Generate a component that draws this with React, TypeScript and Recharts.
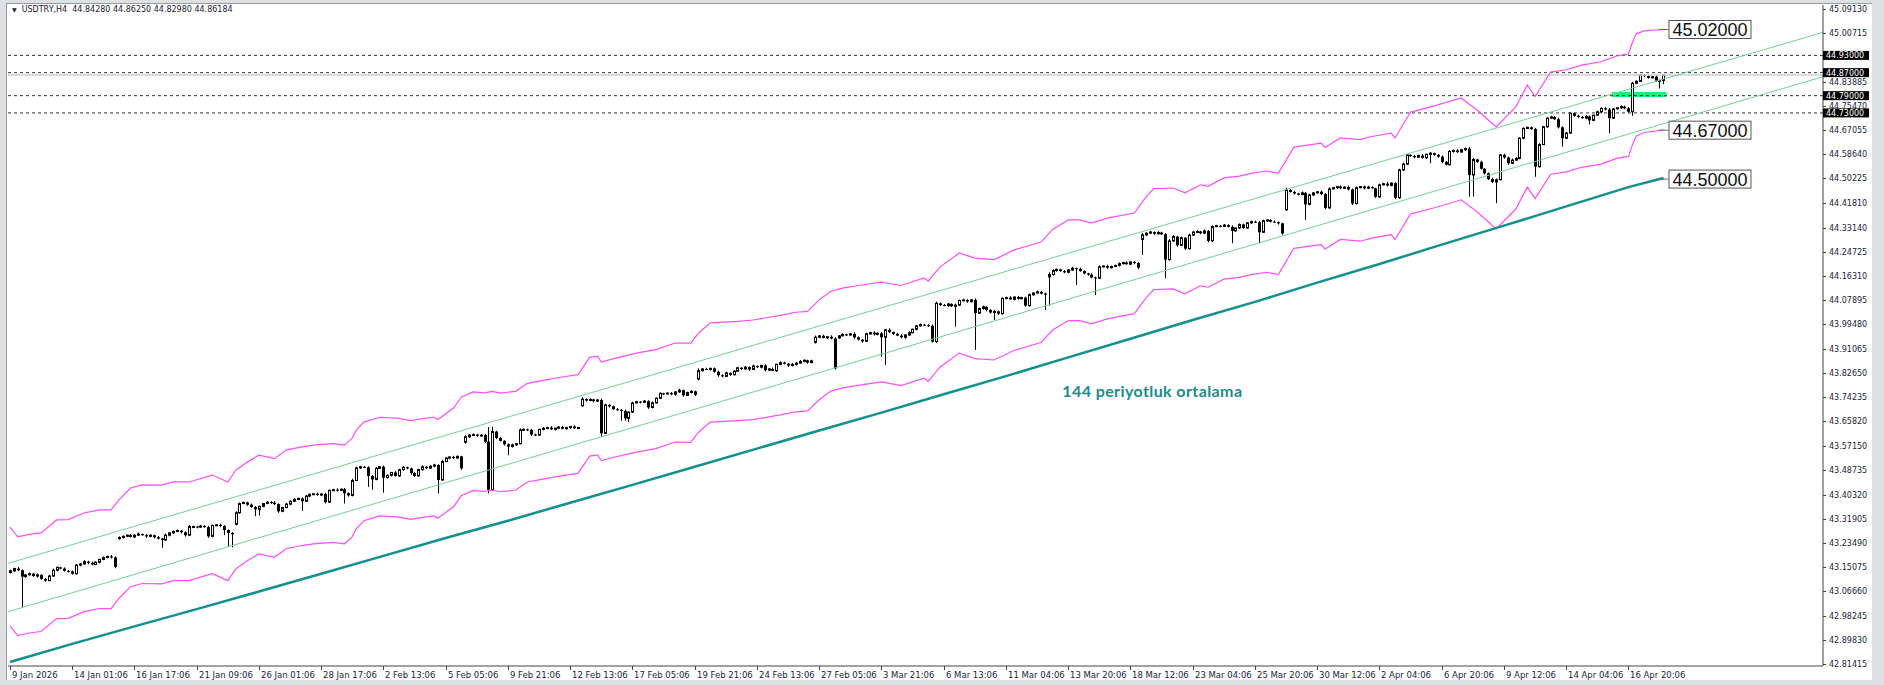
import React from "react";
import { ComposedChart, Bar, Line, XAxis, YAxis, ReferenceLine, ReferenceArea, ReferenceDot } from "recharts";

const AXIS_FONT = "'DejaVu Sans', Verdana, sans-serif";
const AXIS_TEXT = "#1b2340";

// x axis: one label every 16 H4 bars
const dateTicks = [0, 16, 32, 48, 64, 80, 96, 112, 128, 144, 160, 176, 192, 208, 224, 240, 256, 272, 288, 304, 320, 336, 352, 368, 384, 400, 416];
const dateLabels = [
  "9 Jan 2026", "14 Jan 01:06", "16 Jan 17:06", "21 Jan 09:06", "26 Jan 01:06", "28 Jan 17:06", "2 Feb 13:06",
  "5 Feb 05:06", "9 Feb 21:06", "12 Feb 13:06", "17 Feb 05:06", "19 Feb 21:06", "24 Feb 13:06", "27 Feb 05:06",
  "3 Mar 21:06", "6 Mar 13:06", "11 Mar 04:06", "13 Mar 20:06", "18 Mar 12:06", "23 Mar 04:06", "25 Mar 20:06",
  "30 Mar 12:06", "2 Apr 04:06", "6 Apr 20:06", "9 Apr 12:06", "14 Apr 04:06", "16 Apr 20:06",
];

// 44.92300 is hidden behind the 44.93 tag in the picture
const priceTicks = [
  45.0913, 45.00715, 44.83885, 44.7547, 44.67055, 44.5864, 44.50225, 44.4181, 44.3314, 44.24725, 44.1631,
  44.07895, 43.9948, 43.91065, 43.8265, 43.74235, 43.6582, 43.5715, 43.48735, 43.4032, 43.31905, 43.2349, 43.15075,
  43.0666, 42.98245, 42.8983, 42.81415,
];

// candle closes, one row = 16 bars
const closes = [
  43.138, 43.146, 43.140, 43.118, 43.124, 43.128, 43.120, 43.124, 43.110, 43.104, 43.120, 43.140, 43.150, 43.146, 43.138, 43.136,
  43.128, 43.158, 43.162, 43.170, 43.166, 43.160, 43.168, 43.178, 43.184, 43.188, 43.185, 43.152, 43.254, 43.258, 43.262, 43.256,
  43.262, 43.266, 43.262, 43.258, 43.262, 43.255, 43.250, 43.245, 43.262, 43.270, 43.275, 43.278, 43.272, 43.262, 43.292, 43.292,
  43.290, 43.294, 43.290, 43.258, 43.296, 43.298, 43.294, 43.280, 43.270, 43.265, 43.340, 43.372, 43.376, 43.368, 43.360, 43.352,
  43.362, 43.372, 43.377, 43.375, 43.370, 43.345, 43.358, 43.370, 43.380, 43.386, 43.390, 43.380, 43.398, 43.404, 43.406, 43.402,
  43.405, 43.377, 43.418, 43.420, 43.418, 43.422, 43.408, 43.400, 43.452, 43.496, 43.500, 43.498, 43.468, 43.456, 43.494, 43.500,
  43.462, 43.470, 43.480, 43.468, 43.490, 43.498, 43.494, 43.478, 43.468, 43.490, 43.500, 43.495, 43.502, 43.506, 43.454, 43.518,
  43.530, 43.534, 43.530, 43.536, 43.494, 43.604, 43.610, 43.612, 43.608, 43.610, 43.587, 43.420, 43.622, 43.600, 43.590, 43.578,
  43.570, 43.576, 43.580, 43.628, 43.630, 43.628, 43.612, 43.610, 43.630, 43.634, 43.636, 43.630, 43.634, 43.638, 43.632, 43.636,
  43.640, 43.634, 43.636, 43.735, 43.730, 43.734, 43.728, 43.732, 43.616, 43.715, 43.710, 43.700, 43.698, 43.694, 43.668, 43.690,
  43.722, 43.726, 43.724, 43.728, 43.706, 43.722, 43.738, 43.755, 43.754, 43.756, 43.752, 43.760, 43.766, 43.748, 43.758, 43.762,
  43.750, 43.834, 43.840, 43.838, 43.842, 43.830, 43.818, 43.814, 43.826, 43.820, 43.832, 43.844, 43.840, 43.846, 43.838, 43.850,
  43.846, 43.852, 43.836, 43.840, 43.834, 43.856, 43.862, 43.858, 43.852, 43.856, 43.860, 43.866, 43.870, 43.862, 43.868, 43.950,
  43.955, 43.948, 43.952, 43.946, 43.842, 43.955, 43.960, 43.958, 43.962, 43.950, 43.942, 43.936, 43.962, 43.966, 43.960, 43.964,
  43.950, 43.976, 43.968, 43.962, 43.956, 43.950, 43.958, 43.966, 43.978, 43.990, 43.994, 43.992, 43.990, 43.935, 44.068, 44.062,
  44.060, 44.066, 44.058, 44.062, 44.078, 44.080, 44.074, 44.080, 44.034, 44.050, 44.056, 44.045, 44.036, 44.040, 44.032, 44.085,
  44.088, 44.082, 44.090, 44.084, 44.088, 44.060, 44.098, 44.104, 44.108, 44.102, 44.098, 44.168, 44.182, 44.186, 44.180, 44.176,
  44.184, 44.190, 44.188, 44.180, 44.172, 44.168, 44.158, 44.155, 44.195, 44.198, 44.192, 44.196, 44.200, 44.206, 44.210, 44.204,
  44.212, 44.208, 44.192, 44.306, 44.312, 44.316, 44.310, 44.314, 44.308, 44.220, 44.285, 44.300, 44.270, 44.296, 44.258, 44.305,
  44.316, 44.318, 44.312, 44.320, 44.285, 44.335, 44.338, 44.336, 44.340, 44.334, 44.320, 44.330, 44.342, 44.330, 44.348, 44.352,
  44.350, 44.315, 44.355, 44.358, 44.352, 44.350, 44.346, 44.311, 44.462, 44.455, 44.450, 44.446, 44.452, 44.412, 44.445, 44.452,
  44.456, 44.448, 44.400, 44.466, 44.470, 44.474, 44.468, 44.472, 44.464, 44.415, 44.470, 44.474, 44.468, 44.472, 44.468, 44.438,
  44.480, 44.484, 44.478, 44.486, 44.435, 44.532, 44.552, 44.584, 44.580, 44.576, 44.582, 44.574, 44.586, 44.590, 44.584, 44.578,
  44.560, 44.550, 44.596, 44.600, 44.594, 44.602, 44.606, 44.514, 44.568, 44.560, 44.536, 44.520, 44.500, 44.490, 44.498, 44.584,
  44.575, 44.555, 44.566, 44.572, 44.642, 44.676, 44.680, 44.674, 44.543, 44.620, 44.682, 44.712, 44.716, 44.708, 44.680, 44.642,
  44.660, 44.729, 44.720, 44.716, 44.712, 44.718, 44.704, 44.722, 44.734, 44.746, 44.742, 44.712, 44.744, 44.748, 44.752, 44.746,
  44.734, 44.833, 44.840, 44.862, 44.858, 44.852, 44.856, 44.842, 44.843, 44.862,
];

// opens that differ from the previous close (gaps) [bar, open]
const gapOpens = [
  [0, 43.132], [28, 43.25], [58, 43.3], [117, 43.585], [147, 43.712], [177, 43.805],
  [207, 43.932], [213, 43.948], [267, 44.16], [291, 44.29], [328, 44.393],
];

// wick lengths beyond the body, in thousandths
const wickUp = [
  4, 3, 5, 3, 2, 4, 3, 5, 2, 3, 4, 6, 3, 2, 4, 3,
  3, 4, 2, 5, 3, 4, 3, 2, 4, 3, 5, 3, 4, 3, 2, 4,
  3, 5, 2, 4, 3, 2, 4, 3, 5, 2, 3, 4, 2, 3, 5, 3,
  2, 4, 3, 5, 3, 2, 4, 3, 2, 3, 5, 4, 3, 2, 4, 3,
  3, 2, 4, 3, 5, 3, 2, 4, 3, 5, 2, 3, 4, 3, 2, 4,
  3, 4, 2, 3, 5, 2, 4, 3, 6, 4, 3, 2, 4, 3, 5, 3,
  4, 3, 2, 5, 3, 4, 2, 3, 4, 3, 5, 2, 3, 4, 3, 5,
  3, 2, 4, 3, 2, 6, 3, 4, 2, 3, 4, 51, 17, 3, 4, 2,
  3, 4, 2, 5, 3, 2, 4, 3, 2, 4, 3, 5, 2, 3, 4, 3,
  2, 4, 3, 6, 3, 4, 2, 3, 5, 4, 3, 2, 4, 3, 5, 2,
  4, 3, 2, 4, 3, 5, 3, 4, 2, 3, 4, 3, 5, 2, 3, 4,
  3, 8, 3, 4, 2, 3, 4, 3, 5, 2, 4, 3, 2, 4, 3, 5,
  2, 3, 4, 3, 5, 2, 4, 3, 2, 4, 3, 5, 3, 2, 4, 6,
  3, 4, 2, 5, 4, 3, 4, 2, 3, 5, 3, 2, 4, 3, 5, 3,
  4, 3, 5, 2, 3, 4, 3, 5, 2, 3, 4, 2, 3, 5, 6, 3,
  4, 3, 2, 5, 3, 4, 2, 3, 5, 3, 4, 2, 3, 5, 3, 4,
  3, 5, 2, 4, 3, 3, 4, 2, 5, 3, 3, 8, 4, 3, 2, 4,
  3, 5, 2, 4, 3, 2, 4, 3, 5, 2, 4, 3, 2, 5, 3, 4,
  2, 4, 3, 6, 3, 4, 2, 5, 3, 4, 6, 5, 3, 4, 2, 5,
  3, 4, 2, 5, 3, 4, 3, 2, 4, 3, 5, 2, 4, 3, 2, 4,
  3, 5, 4, 3, 2, 4, 3, 2, 8, 3, 4, 2, 5, 3, 4, 3,
  2, 4, 3, 5, 3, 2, 4, 3, 5, 3, 4, 2, 3, 5, 3, 2,
  4, 3, 5, 2, 3, 4, 5, 3, 2, 4, 3, 5, 3, 4, 2, 3,
  4, 3, 5, 2, 4, 3, 4, 6, 5, 3, 4, 2, 3, 5, 4, 3,
  4, 3, 5, 4, 3, 4, 2, 3, 4, 5, 3, 2, 4, 3, 5, 3,
  4, 3, 2, 4, 3, 5, 3, 2, 4, 3, 4, 5, 3, 2, 4, 3,
  4, 5, 3, 1, 3, 4, 2, 5, 3, 1,
];
const wickDn = [
  3, 4, 3, 108, 4, 2, 3, 5, 3, 4, 2, 3, 4, 3, 2, 4,
  3, 2, 4, 3, 5, 3, 2, 4, 3, 2, 4, 5, 3, 4, 3, 2,
  4, 3, 2, 5, 3, 4, 3, 27, 2, 4, 3, 2, 4, 5, 3, 2,
  4, 3, 2, 5, 3, 2, 4, 18, 48, 45, 4, 3, 2, 4, 3, 24,
  22, 3, 2, 4, 3, 5, 3, 2, 4, 3, 2, 34, 3, 4, 2, 3,
  4, 5, 3, 2, 4, 3, 36, 4, 3, 2, 4, 3, 38, 36, 3, 2,
  52, 3, 4, 2, 3, 4, 3, 5, 3, 2, 4, 3, 2, 4, 47, 3,
  2, 4, 3, 2, 5, 5, 3, 2, 4, 3, 5, 13, 3, 4, 2, 4,
  30, 3, 4, 2, 3, 4, 5, 3, 2, 4, 3, 2, 4, 3, 2, 3,
  4, 3, 2, 4, 3, 2, 4, 3, 12, 3, 4, 2, 3, 34, 8, 13,
  3, 2, 4, 3, 5, 3, 2, 3, 4, 2, 3, 5, 3, 4, 2, 3,
  4, 5, 3, 2, 4, 3, 5, 3, 2, 4, 3, 2, 4, 3, 5, 2,
  3, 4, 5, 3, 2, 4, 3, 2, 5, 3, 4, 2, 3, 4, 2, 4,
  3, 2, 4, 3, 4, 3, 2, 4, 3, 5, 3, 4, 2, 3, 4, 3,
  67, 96, 3, 4, 2, 3, 5, 3, 2, 4, 3, 2, 4, 3, 4, 3,
  2, 4, 3, 71, 3, 2, 4, 3, 128, 3, 4, 5, 3, 26, 4, 3,
  3, 2, 4, 3, 2, 4, 3, 4, 2, 3, 53, 100, 3, 4, 2, 3,
  4, 3, 56, 2, 3, 4, 3, 58, 3, 2, 4, 3, 2, 4, 3, 2,
  3, 4, 5, 54, 3, 2, 4, 3, 2, 65, 4, 3, 5, 3, 4, 3,
  2, 3, 4, 2, 5, 3, 2, 4, 3, 2, 43, 3, 4, 3, 2, 4,
  3, 38, 2, 4, 3, 2, 4, 5, 3, 2, 4, 3, 2, 54, 3, 4,
  2, 4, 5, 3, 2, 4, 3, 2, 4, 5, 3, 2, 4, 3, 2, 4,
  3, 2, 4, 3, 5, 3, 4, 2, 3, 4, 2, 3, 4, 31, 3, 4,
  5, 3, 2, 4, 3, 2, 4, 75, 75, 4, 3, 4, 3, 4, 74, 3,
  4, 5, 3, 2, 3, 4, 2, 3, 35, 3, 2, 4, 3, 2, 4, 29,
  3, 2, 4, 3, 2, 4, 14, 3, 2, 4, 3, 53, 3, 2, 4, 3,
  4, 14, 3, 2, 4, 3, 2, 3, 27, 13,
];

// 144 period moving average
const maIdx = [0, 16, 32, 48, 64, 80, 96, 112, 128, 144, 160, 176, 192, 208, 224, 240, 256, 272, 288, 304, 320, 336, 352, 368, 384, 400, 416, 425];
const maVals = [
  42.821, 42.884, 42.945, 43.005, 43.066, 43.128, 43.19, 43.252, 43.312, 43.375, 43.437, 43.5, 43.563, 43.626,
  43.688, 43.752, 43.815, 43.88, 43.945, 44.01, 44.073, 44.14, 44.205, 44.272, 44.338, 44.405, 44.472, 44.504,
];

// envelope bands
const envIdx = [
  0, 2, 5, 8, 12, 15, 19, 23, 26, 28, 31, 34, 39, 42, 46, 52, 56, 58, 61, 64,
  68, 71, 75, 78, 83, 86, 88, 89, 91, 95, 100, 103, 106, 109, 110, 114, 116, 119, 122, 124,
  126, 130, 133, 137, 142, 146, 149, 151, 152, 155, 161, 166, 171, 175, 177, 180, 187, 191, 198, 202,
  205, 208, 211, 214, 218, 224, 229, 235, 236, 239, 244, 248, 253, 258, 265, 268, 272, 275, 278, 282,
  289, 292, 294, 299, 302, 306, 308, 312, 316, 319, 323, 326, 330, 337, 338, 342, 347, 350, 355, 356,
  360, 365, 373, 377, 382, 387, 390, 392, 396, 400, 404, 409, 413, 416, 417, 418, 420, 425,
];
const envUpper = [
  43.29, 43.256, 43.265, 43.27, 43.315, 43.316, 43.339, 43.35, 43.35, 43.385, 43.426, 43.437, 43.436, 43.447, 43.447, 43.471, 43.447, 43.487, 43.516, 43.54,
  43.528, 43.558, 43.569, 43.575, 43.58, 43.575, 43.6, 43.627, 43.655, 43.672, 43.668, 43.66, 43.667, 43.672, 43.664, 43.704, 43.742, 43.76, 43.757, 43.762,
  43.756, 43.762, 43.79, 43.8, 43.812, 43.82, 43.88, 43.884, 43.864, 43.875, 43.895, 43.907, 43.93, 43.93, 43.965, 44.0, 44.005, 44.01, 44.026, 44.037,
  44.04, 44.08, 44.11, 44.121, 44.13, 44.142, 44.13, 44.156, 44.145, 44.194, 44.243, 44.225, 44.22, 44.253, 44.281, 44.325, 44.358, 44.358, 44.347, 44.364,
  44.382, 44.438, 44.467, 44.469, 44.452, 44.48, 44.475, 44.504, 44.51, 44.52, 44.528, 44.52, 44.611, 44.625, 44.61, 44.643, 44.637, 44.648, 44.66, 44.643,
  44.733, 44.75, 44.782, 44.741, 44.681, 44.75, 44.827, 44.787, 44.872, 44.88, 44.896, 44.908, 44.928, 44.935, 44.975, 45.005, 45.015, 45.02,
];
const envLower = [
  42.947, 42.913, 42.922, 42.927, 42.972, 42.973, 42.996, 43.007, 43.007, 43.042, 43.083, 43.094, 43.093, 43.104, 43.104, 43.128, 43.104, 43.144, 43.173, 43.197,
  43.185, 43.215, 43.226, 43.232, 43.237, 43.232, 43.257, 43.284, 43.312, 43.329, 43.325, 43.317, 43.324, 43.329, 43.321, 43.361, 43.399, 43.417, 43.414, 43.419,
  43.413, 43.419, 43.447, 43.457, 43.469, 43.477, 43.537, 43.541, 43.521, 43.532, 43.551, 43.563, 43.586, 43.585, 43.62, 43.655, 43.66, 43.664, 43.68, 43.691,
  43.694, 43.733, 43.763, 43.774, 43.783, 43.795, 43.782, 43.808, 43.797, 43.846, 43.895, 43.876, 43.871, 43.904, 43.932, 43.975, 44.008, 44.008, 43.997, 44.014,
  44.032, 44.087, 44.116, 44.118, 44.101, 44.129, 44.124, 44.152, 44.158, 44.168, 44.176, 44.168, 44.259, 44.272, 44.257, 44.29, 44.284, 44.295, 44.307, 44.29,
  44.379, 44.396, 44.428, 44.387, 44.327, 44.395, 44.472, 44.432, 44.517, 44.525, 44.541, 44.552, 44.572, 44.579, 44.619, 44.649, 44.662, 44.67,
];

// regression channel end points [bar, price]
const channelUpper = [[-0.5, 43.164], [466, 45.01]];
const channelLower = [[-0.5, 42.996], [466, 44.856]];

const levelLines = [44.93, 44.87, 44.79, 44.73];
const bidPrice = 44.86184;
const zoneBox = { x1: 411.7, x2: 425.8, y1: 44.785, y2: 44.803 };
const endLabels = [45.02, 44.67, 44.5];

const candles = closes.map((close, i) => {
  const gap = gapOpens.find((g) => g[0] === i);
  const open = gap ? gap[1] : closes[i - 1];
  const high = Math.max(open, close) + wickUp[i] / 1000;
  const low = Math.min(open, close) - wickDn[i] / 1000;
  return { x: i, open, close, high, low, range: [low, high] };
});
const maData = maIdx.map((x, i) => ({ x, v: maVals[i] }));
const upperData = envIdx.map((x, i) => ({ x, v: envUpper[i] }));
const lowerData = envIdx.map((x, i) => ({ x, v: envLower[i] }));
const chUp = channelUpper.map(([x, v]) => ({ x, v }));
const chLo = channelLower.map(([x, v]) => ({ x, v }));

function Candle(props: any) {
  const { x, y, width, height, payload } = props;
  if (!payload || height == null) return null;
  const { open, close, high, low } = payload;
  const top = Math.min(y, y + height);
  const h = Math.abs(height);
  const k = h / (high - low);
  const cx = Math.round(x + width / 2);
  const yO = top + (high - open) * k;
  const yC = top + (high - close) * k;
  const bodyTop = Math.min(yO, yC);
  const bodyH = Math.max(Math.abs(yC - yO), 1);
  return (
    <g>
      <line x1={cx + 0.5} x2={cx + 0.5} y1={top} y2={top + h} stroke="#000" strokeWidth={1} />
      {close >= open ? (
        <rect x={cx - 0.5} y={bodyTop} width={2} height={bodyH} fill="#fff" stroke="#000" strokeWidth={1} />
      ) : (
        <rect x={cx - 1} y={bodyTop} width={3} height={bodyH} fill="#000" />
      )}
    </g>
  );
}

function DateTick({ x, y, payload }: any) {
  const i = dateTicks.indexOf(payload.value);
  const px = Math.round(x) + 0.5;
  return (
    <g>
      <line x1={px} x2={px} y1={y} y2={y + 4} stroke="#444" />
      <text x={px + 1.5} y={y + 12} fontSize={8.5} fontFamily={AXIS_FONT} fill={AXIS_TEXT}>
        {dateLabels[i]}
      </text>
    </g>
  );
}

// price axis tick; the level lines are appended last so their black tags sit on top
function PriceTick({ x, y, payload }: any) {
  const v = Number(payload.value);
  if (levelLines.includes(v)) {
    return (
      <g>
        <rect x={x} y={y - 4.5} width={46} height={9} fill="#000" />
        <text x={x + 3} y={y + 3} fontSize={8} fontFamily={AXIS_FONT} fill="#fff">
          {v.toFixed(5)}
        </text>
      </g>
    );
  }
  const py = Math.round(y) + 0.5;
  return (
    <g>
      <line x1={x} x2={x + 3} y1={py} y2={py} stroke="#444" />
      <text x={x + 6} y={y + 3} fontSize={8} fontFamily={AXIS_FONT} fill={AXIS_TEXT}>
        {v.toFixed(5)}
      </text>
    </g>
  );
}

function EndBox({ viewBox, text }: any) {
  const x = viewBox.x + viewBox.width / 2;
  const y = viewBox.y + viewBox.height / 2;
  return (
    <g>
      <line x1={x - 5} x2={x + 5} y1={y} y2={y} stroke="#666" />
      <rect x={x + 5.5} y={y - 9} width={82} height={18} fill="#fff" stroke="#555" strokeWidth={1} />
      <text x={x + 9} y={y + 6.5} fontSize={18} fontFamily="'Liberation Sans', Arial, sans-serif" fill="#111">
        {text}
      </text>
    </g>
  );
}

function NoteText({ viewBox }: any) {
  return (
    <text x={viewBox.x} y={viewBox.y + 5} fontSize={16} fontWeight={700} fontFamily="Lato, sans-serif" fill="#1a8c8c" letterSpacing={0.4}>
      144 periyotluk ortalama
    </text>
  );
}

export default function App() {
  return (
    <div style={{ position: "absolute", left: 0, top: 0, width: 1884, height: 685, background: "#dde1e4", overflow: "hidden" }}>
      <div style={{ position: "absolute", left: 6, top: 3, width: 1865, height: 676, background: "#fff", borderLeft: "1px solid #9a9a9a", borderTop: "1px solid #9a9a9a" }} />
      <div style={{ position: "absolute", left: 12, top: 5, fontFamily: AXIS_FONT, fontSize: 8, color: "#1a1a2e", whiteSpace: "pre" }}>
        <span style={{ fontSize: 6, marginRight: 5 }}>▼</span>USDTRY,H4  44.84280 44.86250 44.82980 44.86184
      </div>
      <div style={{ position: "absolute", left: 0, top: 0 }}>
        <ComposedChart width={1884} height={685} data={candles} margin={{ top: 5, right: 0, bottom: 0, left: 8 }}>
          <XAxis
            dataKey="x"
            type="number"
            domain={[-0.5, 466]}
            allowDataOverflow
            ticks={dateTicks}
            interval={0}
            height={19}
            tickSize={0}
            tickMargin={0}
            tickLine={false}
            axisLine={{ stroke: "#444" }}
            tick={<DateTick />}
          />
          <YAxis
            orientation="right"
            type="number"
            domain={[42.8072, 45.1052]}
            allowDataOverflow
            ticks={[...priceTicks, ...levelLines]}
            interval={0}
            width={61}
            tickSize={0}
            tickMargin={0}
            tickLine={false}
            axisLine={{ stroke: "#444" }}
            tick={<PriceTick />}
          />
          <ReferenceArea x1={zoneBox.x1} x2={zoneBox.x2} y1={zoneBox.y1} y2={zoneBox.y2} fill="#1cf07c" fillOpacity={1} stroke="none" />
          <ReferenceLine y={bidPrice} stroke="#cfcfcf" strokeWidth={1.5} />
          {levelLines.map((lv) => (
            <ReferenceLine key={lv} y={lv} stroke="#333" strokeDasharray="3 3" />
          ))}
          <Line data={chUp} dataKey="v" stroke="#6fd296" strokeWidth={1} dot={false} isAnimationActive={false} />
          <Line data={chLo} dataKey="v" stroke="#6fd296" strokeWidth={1} dot={false} isAnimationActive={false} />
          <Line data={upperData} dataKey="v" stroke="#ff4cff" strokeWidth={1.2} dot={false} isAnimationActive={false} />
          <Line data={lowerData} dataKey="v" stroke="#ff4cff" strokeWidth={1.2} dot={false} isAnimationActive={false} />
          <Line data={maData} dataKey="v" stroke="#10908e" strokeWidth={2.5} dot={false} isAnimationActive={false} />
          <Bar dataKey="range" barSize={3} isAnimationActive={false} shape={(p: any) => <Candle {...p} />} />
          {endLabels.map((v) => (
            <ReferenceDot key={v} x={425} y={v} r={0} fill="none" stroke="none" ifOverflow="visible" label={<EndBox text={v.toFixed(5)} />} />
          ))}
          <ReferenceDot x={270.5} y={43.76} r={0} fill="none" stroke="none" label={<NoteText />} />
        </ComposedChart>
      </div>
    </div>
  );
}
